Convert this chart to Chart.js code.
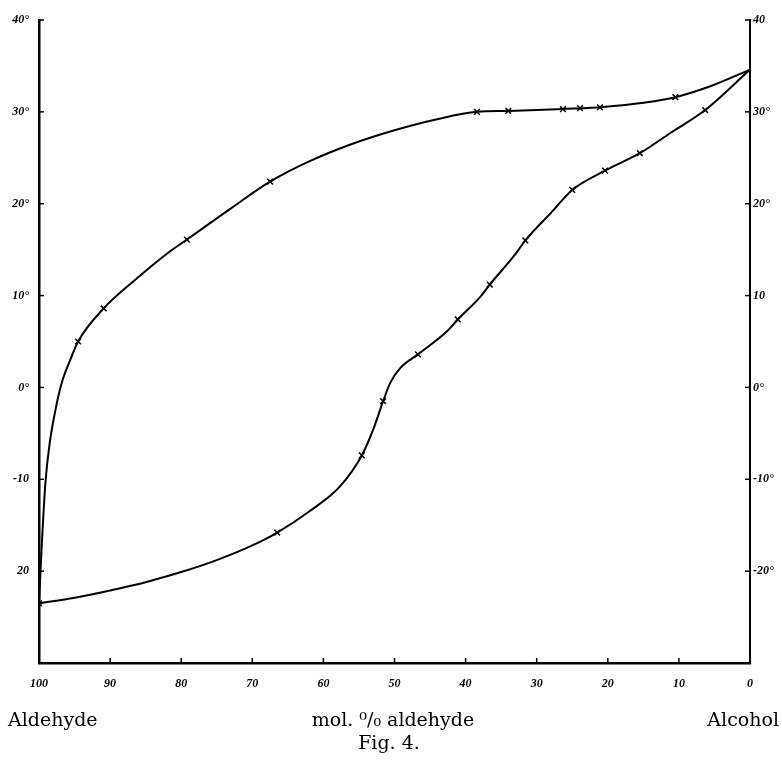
<!DOCTYPE html>
<html><head><meta charset="utf-8">
<script src="https://cdn.jsdelivr.net/npm/chart.js@4"></script>
<style>html,body{margin:0;padding:0;background:#fff}</style>
</head><body>
<div style="width:782px;height:762px;position:relative"><canvas id="c"></canvas></div>
<script>
// mol % aldehyde (x) and temperature (y)
const upperX = [100, 99.6, 99.1, 98.5, 97.7, 96.8, 95.6, 94.5, 90.9, 86.8, 81.6, 79.2, 73, 67.5, 62, 56, 50, 44, 38.4, 34.0, 26.3, 23.9, 21.1, 15, 10.5, 5.2, 0];
const upperT = [-23.5, -17, -10.4, -6.1, -2.5, 0.5, 3.0, 5.0, 8.6, 11.5, 14.8, 16.1, 19.5, 22.4, 24.6, 26.5, 28.0, 29.2, 30.0, 30.1, 30.3, 30.4, 30.5, 31.0, 31.6, 32.9, 34.6];
const lowerX = [100, 95, 90, 85, 80, 75, 70, 66.5, 62, 57.7, 54.6, 53.0, 51.6, 50.6, 49.2, 46.7, 42.5, 41.1, 38, 36.6, 33, 31.6, 28, 25, 20.4, 15.5, 11.2, 6.3, 0];
const lowerT = [-23.5, -22.9, -22.1, -21.2, -20.1, -18.8, -17.2, -15.8, -13.5, -10.8, -7.4, -4.6, -1.5, 0.5, 2.1, 3.6, 6.2, 7.4, 9.8, 11.2, 14.5, 16.0, 19.0, 21.5, 23.6, 25.5, 27.7, 30.2, 34.6];
const markUpperX = [94.5, 90.9, 79.2, 67.5, 38.4, 34.0, 26.3, 23.9, 21.1, 10.5];
const markUpperT = [5.0, 8.6, 16.1, 22.4, 30.0, 30.1, 30.3, 30.4, 30.5, 31.6];
const markLowerX = [100, 66.5, 54.6, 51.6, 46.7, 41.1, 36.6, 31.6, 25, 20.4, 15.5, 6.3];
const markLowerT = [-23.5, -15.8, -7.4, -1.5, 3.6, 7.4, 11.2, 16.0, 21.5, 23.6, 25.5, 30.2];
const xTicks = [100, 90, 80, 70, 60, 50, 40, 30, 20, 10, 0];
const xTickLabels = ['100', '90', '80', '70', '60', '50', '40', '30', '20', '10', '0'];
const yTicks = [40, 30, 20, 10, 0, -10, -20];
const yLeftLabels = ['40°', '30°', '20°', '10°', '0°', '-10', '20'];
const yRightLabels = ['40', '30°', '20°', '10', '0°', '-10°', '-20°'];

const pts = (xs, ys) => xs.map((x, i) => ({x: x, y: ys[i]}));
const lineStyle = {borderColor: '#000', borderWidth: 2, pointRadius: 0, fill: false, cubicInterpolationMode: 'monotone'};
const markStyle = {showLine: false, pointStyle: 'crossRot', pointRadius: 4, borderColor: '#000', borderWidth: 1.5, backgroundColor: '#000'};
const tickFont = {family: '"Liberation Serif", serif', style: 'italic', size: 12, weight: 'bold'};

const extras = {
  id: 'extras',
  afterDraw(chart) {
    const ctx = chart.ctx, xs = chart.scales.x, ys = chart.scales.y;
    const a = chart.chartArea;
    ctx.save();
    ctx.strokeStyle = '#000';
    ctx.lineWidth = 1.5;
    yTicks.forEach(v => {
      const py = ys.getPixelForValue(v);
      ctx.beginPath(); ctx.moveTo(a.left - 1, py); ctx.lineTo(a.left + 5, py); ctx.stroke();
      ctx.beginPath(); ctx.moveTo(a.right - 5, py); ctx.lineTo(a.right + 1, py); ctx.stroke();
    });
    xTicks.forEach(v => {
      const px = xs.getPixelForValue(v);
      ctx.beginPath(); ctx.moveTo(px, a.bottom); ctx.lineTo(px, a.bottom - 5); ctx.stroke();
    });
    ctx.fillStyle = '#000';
    ctx.font = '19px "DejaVu Serif", "Liberation Serif", serif';
    ctx.textBaseline = 'middle';
    ctx.textAlign = 'left';
    ctx.fillText('Aldehyde', 8, 721);
    ctx.textAlign = 'right';
    ctx.fillText('Alcohol', 779, 721);
    ctx.textAlign = 'center';
    ctx.fillText('mol. \u2070/\u2080 aldehyde', 393, 721);
    ctx.fillText('Fig. 4.', 389, 744);
    ctx.restore();
  }
};

new Chart(document.getElementById('c'), {
  type: 'line',
  data: {
    datasets: [
      Object.assign({data: pts(upperX, upperT)}, lineStyle),
      Object.assign({data: pts(lowerX, lowerT)}, lineStyle),
      Object.assign({data: pts(markUpperX, markUpperT)}, markStyle),
      Object.assign({data: pts(markLowerX, markLowerT)}, markStyle)
    ]
  },
  options: {
    responsive: true, maintainAspectRatio: false, animation: false,
    layout: {padding: {top: 20, left: 0, right: 0, bottom: 0}},
    plugins: {legend: {display: false}, tooltip: {enabled: false}},
    scales: {
      x: {
        type: 'linear', min: 0, max: 100, reverse: true, position: 'bottom',
        grid: {display: false}, border: {display: true, color: '#000', width: 2.5},
        afterBuildTicks: s => { s.ticks = xTicks.map(v => ({value: v})); },
        ticks: {color: '#000', padding: 6, maxRotation: 0, autoSkip: false, font: tickFont,
          callback: v => xTickLabels[xTicks.indexOf(v)]},
        afterFit: s => { s.height = 99; }
      },
      y: {
        type: 'linear', min: -30, max: 40, position: 'left',
        grid: {display: false}, border: {display: true, color: '#000', width: 2.5},
        afterBuildTicks: s => { s.ticks = yTicks.map(v => ({value: v})); },
        ticks: {color: '#000', padding: 2, autoSkip: false, font: tickFont,
          callback: v => yLeftLabels[yTicks.indexOf(v)]},
        afterFit: s => { s.width = 39; }
      },
      y2: {
        type: 'linear', min: -30, max: 40, position: 'right',
        grid: {display: false}, border: {display: true, color: '#000', width: 2},
        afterBuildTicks: s => { s.ticks = yTicks.map(v => ({value: v})); },
        ticks: {color: '#000', padding: -5, autoSkip: false, font: tickFont,
          callback: v => yRightLabels[yTicks.indexOf(v)]},
        afterFit: s => { s.width = 32; }
      }
    }
  },
  plugins: [extras]
});
</script>
</body></html>
